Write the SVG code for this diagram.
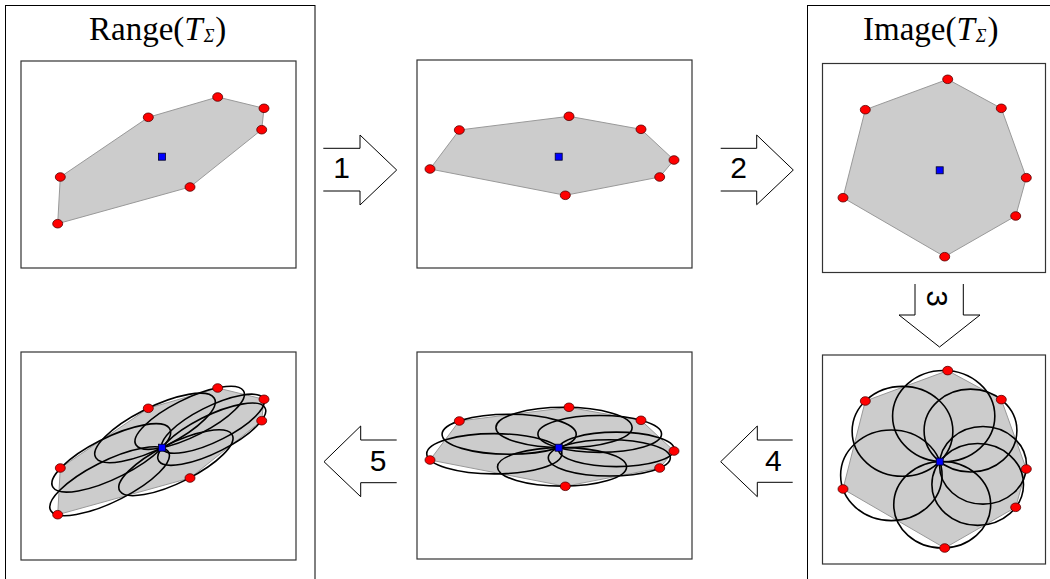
<svg xmlns="http://www.w3.org/2000/svg" xmlns:xlink="http://www.w3.org/1999/xlink" width="1050" height="579" viewBox="0 0 1050 579">
  <style>
    .frame { fill: none; stroke: #000; stroke-width: 1; }
    .panel { fill: #fff; stroke: #333; stroke-width: 1.2; }
    .hull { fill: #cccccc; stroke: #999; stroke-width: 1; }
    .pt { fill: #f00; stroke: #500; stroke-width: 0.8; }
    .ctr { fill: #00f; stroke: #002; stroke-width: 0.8; }
    .ell { fill: none; stroke: #000; stroke-width: 1.6; vector-effect: non-scaling-stroke; }
    .title { font-family: "Liberation Serif", "Times New Roman", serif; font-size: 33px; fill: #000; }
    .sub { font-style: italic; font-size: 18px; }
    .arrow { fill: #fff; stroke: #000; stroke-width: 1; }
    .num { font-family: "Liberation Sans", Arial, sans-serif; font-size: 30px; fill: #000; text-anchor: middle; }
  </style>
  <defs>
    <!-- one ellipse per sample point, in image-space offsets from the centre -->
    <g id="ellipses">
      <ellipse class="ell" cx="-37.2" cy="-30.3" rx="50.36" ry="44.96"/>
      <ellipse class="ell" cx="4.0" cy="-45.5" rx="51.12" ry="45.64"/>
      <ellipse class="ell" cx="30.8" cy="-31.0" rx="46.41" ry="41.44"/>
      <ellipse class="ell" cx="43.3" cy="3.7" rx="43.5" ry="38.84"/>
      <ellipse class="ell" cx="38.0" cy="22.85" rx="45.81" ry="40.9"/>
      <ellipse class="ell" cx="2.5" cy="43.2" rx="48.45" ry="43.26"/>
      <ellipse class="ell" cx="-48.35" cy="13.7" rx="50.72" ry="45.29"/>
    </g>
  </defs>

  <rect width="1050" height="579" fill="#fff"/>

  <!-- column frames -->
  <g id="range-frame">
    <rect class="frame" x="5.5" y="5.5" width="309.5" height="600"/>
    <text class="title" x="89" y="39.5">Range(<tspan font-style="italic">T</tspan><tspan class="sub" dx="1" dy="2.5">Σ</tspan><tspan dx="1" dy="-2.5">)</tspan></text>
  </g>
  <g id="image-frame">
    <rect class="frame" x="807.5" y="5.5" width="300" height="600"/>
    <text class="title" x="863" y="39.5">Image(<tspan font-style="italic">T</tspan><tspan class="sub" dx="1" dy="2.5">Σ</tspan><tspan dx="1" dy="-2.5">)</tspan></text>
  </g>

  <!-- top row -->
  <g id="range-top">
    <rect class="panel" x="21" y="61" width="275" height="207"/>
    <polygon class="hull" points="57.7,223.7 60.3,177 148.3,117.3 217.7,97 264,108.3 261.7,129.7 190,187"/>
    <ellipse class="pt" cx="57.7" cy="223.7" rx="5" ry="4.3"/>
    <ellipse class="pt" cx="60.3" cy="177" rx="5" ry="4.3"/>
    <ellipse class="pt" cx="148.3" cy="117.3" rx="5" ry="4.3"/>
    <ellipse class="pt" cx="217.7" cy="97" rx="5" ry="4.3"/>
    <ellipse class="pt" cx="264" cy="108.3" rx="5" ry="4.3"/>
    <ellipse class="pt" cx="261.7" cy="129.7" rx="5" ry="4.3"/>
    <ellipse class="pt" cx="190" cy="187" rx="5" ry="4.3"/>
    <rect class="ctr" x="158.5" y="153.2" width="7" height="7"/>
  </g>

  <g id="rotated-top">
    <rect class="panel" x="417" y="60" width="275" height="208"/>
    <polygon class="hull" points="430,169 459.3,130 569,116.3 641,129.3 674,160 659.7,177 565.3,195.3"/>
    <ellipse class="pt" cx="430" cy="169" rx="5" ry="4.3"/>
    <ellipse class="pt" cx="459.3" cy="130" rx="5" ry="4.3"/>
    <ellipse class="pt" cx="569" cy="116.3" rx="5" ry="4.3"/>
    <ellipse class="pt" cx="641" cy="129.3" rx="5" ry="4.3"/>
    <ellipse class="pt" cx="674" cy="160" rx="5" ry="4.3"/>
    <ellipse class="pt" cx="659.7" cy="177" rx="5" ry="4.3"/>
    <ellipse class="pt" cx="565.3" cy="195.3" rx="5" ry="4.3"/>
    <rect class="ctr" x="555.2" y="153.2" width="7" height="7"/>
  </g>

  <g id="image-top">
    <rect class="panel" x="822.5" y="63.5" width="223" height="209"/>
    <polygon class="hull" points="843,197.7 865.3,109.7 947.7,79.3 1001.3,108.3 1026.3,177.7 1015.7,216 944.7,256.7"/>
    <ellipse class="pt" cx="843" cy="197.7" rx="5" ry="4.3"/>
    <ellipse class="pt" cx="865.3" cy="109.7" rx="5" ry="4.3"/>
    <ellipse class="pt" cx="947.7" cy="79.3" rx="5" ry="4.3"/>
    <ellipse class="pt" cx="1001.3" cy="108.3" rx="5" ry="4.3"/>
    <ellipse class="pt" cx="1026.3" cy="177.7" rx="5" ry="4.3"/>
    <ellipse class="pt" cx="1015.7" cy="216" rx="5" ry="4.3"/>
    <ellipse class="pt" cx="944.7" cy="256.7" rx="5" ry="4.3"/>
    <rect class="ctr" x="936.2" y="166.8" width="7" height="7"/>
  </g>

  <!-- bottom row -->
  <g id="image-bottom">
    <rect class="panel" x="822.5" y="355" width="223" height="209"/>
    <polygon class="hull" points="843,489 865.3,401 947.7,370.6 1001.3,399.6 1026.3,469 1015.7,507.3 944.7,548"/>
    <use xlink:href="#ellipses" transform="translate(939.7,461.6)"/>
    <ellipse class="pt" cx="843" cy="489" rx="5" ry="4.3"/>
    <ellipse class="pt" cx="865.3" cy="401" rx="5" ry="4.3"/>
    <ellipse class="pt" cx="947.7" cy="370.6" rx="5" ry="4.3"/>
    <ellipse class="pt" cx="1001.3" cy="399.6" rx="5" ry="4.3"/>
    <ellipse class="pt" cx="1026.3" cy="469" rx="5" ry="4.3"/>
    <ellipse class="pt" cx="1015.7" cy="507.3" rx="5" ry="4.3"/>
    <ellipse class="pt" cx="944.7" cy="548" rx="5" ry="4.3"/>
    <rect class="ctr" x="936.2" y="458.1" width="7" height="7"/>
  </g>

  <g id="rotated-bottom">
    <rect class="panel" x="417" y="352" width="275" height="207"/>
    <polygon class="hull" points="430,460 459.3,421 569,407.3 641,420.3 674,451 659.7,468 565.3,486.3"/>
    <use xlink:href="#ellipses" transform="matrix(1.332,0,0,0.444,558.7,447.7)"/>
    <ellipse class="pt" cx="430" cy="460" rx="5" ry="4.3"/>
    <ellipse class="pt" cx="459.3" cy="421" rx="5" ry="4.3"/>
    <ellipse class="pt" cx="569" cy="407.3" rx="5" ry="4.3"/>
    <ellipse class="pt" cx="641" cy="420.3" rx="5" ry="4.3"/>
    <ellipse class="pt" cx="674" cy="451" rx="5" ry="4.3"/>
    <ellipse class="pt" cx="659.7" cy="468" rx="5" ry="4.3"/>
    <ellipse class="pt" cx="565.3" cy="486.3" rx="5" ry="4.3"/>
    <rect class="ctr" x="555.2" y="444.2" width="7" height="7"/>
  </g>

  <g id="range-bottom">
    <rect class="panel" x="21" y="352" width="275" height="208"/>
    <polygon class="hull" points="57.7,514.7 60.3,468 148.3,408.3 217.7,388 264,399.3 261.7,420.7 190,478"/>
    <use xlink:href="#ellipses" transform="matrix(1.156,-0.586,0.255,0.383,162,447.7)"/>
    <ellipse class="pt" cx="57.7" cy="514.7" rx="5" ry="4.3"/>
    <ellipse class="pt" cx="60.3" cy="468" rx="5" ry="4.3"/>
    <ellipse class="pt" cx="148.3" cy="408.3" rx="5" ry="4.3"/>
    <ellipse class="pt" cx="217.7" cy="388" rx="5" ry="4.3"/>
    <ellipse class="pt" cx="264" cy="399.3" rx="5" ry="4.3"/>
    <ellipse class="pt" cx="261.7" cy="420.7" rx="5" ry="4.3"/>
    <ellipse class="pt" cx="190" cy="478" rx="5" ry="4.3"/>
    <rect class="ctr" x="158.5" y="444.2" width="7" height="7"/>
  </g>

  <!-- numbered step arrows -->
  <g id="connectors">
    <g id="step1">
      <polyline class="arrow" points="323.3,148.3 360,148.3 360,135 396.7,170 360,205 360,191 323.3,191"/>
      <text class="num" x="341.7" y="177.5">1</text>
    </g>
    <g id="step2">
      <polyline class="arrow" points="720.7,148.3 756.7,148.3 756.7,135 793.3,170 756.7,204.7 756.7,191 720.7,191"/>
      <text class="num" x="738.5" y="177.5">2</text>
    </g>
    <g id="step3">
      <polyline class="arrow" points="915,284 915,315 899,315 939.5,347 980,315 963.3,315 963.3,284"/>
      <text class="num" transform="translate(938,298.5) rotate(90)" x="0" y="10.8">3</text>
    </g>
    <g id="step4">
      <polyline class="arrow" points="792.7,440 757.3,440 757.3,426 720.7,461.7 757.3,496.7 757.3,482.3 792.7,482.3"/>
      <text class="num" x="773.3" y="470.5">4</text>
    </g>
    <g id="step5">
      <polyline class="arrow" points="396.7,440 360.7,440 360.7,426 324,461.7 360.7,496.7 360.7,482.7 396.7,482.7"/>
      <text class="num" x="378" y="470.5">5</text>
    </g>
  </g>
</svg>
